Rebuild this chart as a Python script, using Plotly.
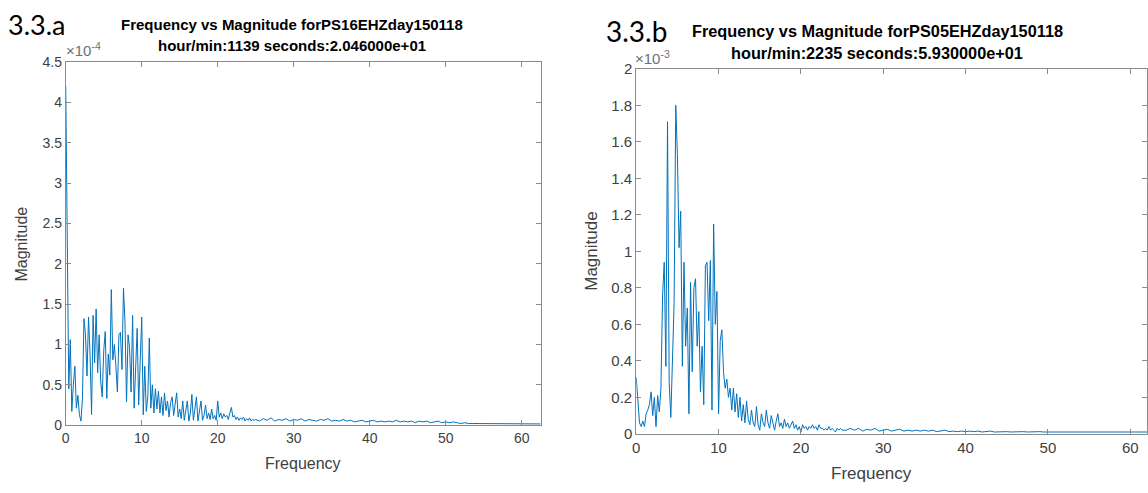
import numpy as np
import plotly.graph_objects as go

# ---------------- data (magnitude in units of 1e-4 for a, 1e-3 for b) ----------------
# fine grid: 0 .. 25 Hz every 0.2 Hz ; coarse tail: 25.5 .. 62.5 Hz every 0.5 Hz
freq_fine = [round(0.2 * i, 2) for i in range(126)]
freq_tail = [round(25.5 + 0.5 * i, 2) for i in range(75)]

mag_a_fine = [
    4.2, 1.75, 0.45, 1.06, 0.17, 0.5, 0.73, 0.21, 0.37, 0.13,
    0.05, 0.33, 1.32, 1.12, 0.61, 1.34, 0.88, 0.13, 1.36, 0.77,
    1.44, 0.65, 1.12, 0.55, 0.35, 0.92, 1.16, 0.33, 0.88, 0.62,
    1.68, 0.81, 1.0, 0.73, 0.41, 1.12, 1.15, 0.69, 1.7, 1.28,
    0.29, 1.12, 0.96, 0.41, 1.36, 0.21, 0.61, 1.2, 0.25, 0.69,
    1.34, 0.13, 0.73, 0.17, 0.35, 1.08, 0.21, 0.5, 0.15, 0.45,
    0.2, 0.42, 0.15, 0.35, 0.12, 0.4, 0.18, 0.3, 0.1, 0.28,
    0.35, 0.12, 0.25, 0.4, 0.1, 0.2, 0.08, 0.3, 0.06, 0.2,
    0.3, 0.05, 0.15, 0.38, 0.06, 0.2, 0.35, 0.05, 0.15, 0.3,
    0.06, 0.12, 0.25, 0.08, 0.15, 0.07, 0.2, 0.08, 0.12, 0.06,
    0.3, 0.1, 0.15, 0.08, 0.14, 0.1, 0.12, 0.07, 0.15, 0.22,
    0.1, 0.12, 0.07, 0.1, 0.06, 0.09, 0.07, 0.1, 0.05, 0.08,
    0.06, 0.09, 0.05, 0.07, 0.06, 0.07,
]
mag_a_tail = [
    0.05, 0.08, 0.06, 0.09, 0.05, 0.07, 0.06, 0.08, 0.05, 0.07,
    0.06, 0.08, 0.05, 0.07, 0.06, 0.05, 0.07, 0.06, 0.08, 0.05,
    0.06, 0.05, 0.07, 0.05, 0.06, 0.04, 0.05, 0.06, 0.04, 0.05,
    0.06, 0.04, 0.05, 0.04, 0.05, 0.04, 0.06, 0.04, 0.05, 0.04,
    0.05, 0.03, 0.05, 0.04, 0.05, 0.03, 0.04, 0.05, 0.03, 0.04,
    0.03, 0.04, 0.03, 0.02, 0.03, 0.02, 0.02, 0.02, 0.02, 0.015,
    0.02, 0.015, 0.02, 0.015, 0.015, 0.02, 0.015, 0.015, 0.02, 0.015,
    0.015, 0.015, 0.015, 0.015, 0.015,
]

mag_b_fine = [
    0.31, 0.15, 0.06, 0.04, 0.07, 0.04, 0.11, 0.13, 0.16, 0.23,
    0.1, 0.2, 0.04, 0.21, 0.12, 0.25, 0.76, 0.94, 0.37, 1.71,
    0.28, 0.09, 0.45, 0.72, 1.8, 1.53, 1.02, 1.22, 0.37, 0.94,
    0.48, 0.69, 0.11, 0.83, 0.34, 0.8, 0.85, 0.48, 0.67, 0.23,
    0.48, 0.16, 0.92, 0.94, 0.62, 0.95, 0.13, 1.15, 0.6, 0.78,
    0.11, 0.51, 0.57, 0.34, 0.25, 0.3, 0.2, 0.25, 0.13, 0.25,
    0.12, 0.22, 0.09, 0.2, 0.07, 0.16, 0.06, 0.18, 0.08, 0.05,
    0.13, 0.06, 0.04, 0.15, 0.05, 0.02, 0.11, 0.06, 0.04, 0.13,
    0.06, 0.03, 0.1, 0.05, 0.02, 0.07, 0.11, 0.04, 0.06, 0.03,
    0.08, 0.04, 0.06, 0.03, 0.05, 0.07, 0.03, 0.05, 0.02, 0.04,
    0.01, 0.05, 0.03, 0.04, 0.02, 0.04, 0.03, 0.05, 0.03, 0.04,
    0.02, 0.05, 0.03, 0.03, 0.02, 0.03, 0.02, 0.04, 0.02, 0.03,
    0.02, 0.01, 0.03, 0.02, 0.03, 0.02,
]
mag_b_tail = [
    0.02, 0.03, 0.02, 0.03, 0.015, 0.025, 0.02, 0.03, 0.015, 0.02,
    0.025, 0.015, 0.02, 0.025, 0.015, 0.02, 0.015, 0.02, 0.015, 0.02,
    0.015, 0.02, 0.012, 0.015, 0.02, 0.012, 0.015, 0.012, 0.015, 0.012,
    0.015, 0.012, 0.015, 0.01, 0.012, 0.015, 0.01, 0.012, 0.01, 0.012,
    0.01, 0.012, 0.01, 0.012, 0.01, 0.012, 0.01, 0.012, 0.01, 0.01,
    0.012, 0.01, 0.01, 0.012, 0.01, 0.01, 0.01, 0.012, 0.01, 0.01,
    0.01, 0.01, 0.01, 0.01, 0.01, 0.01, 0.01, 0.01, 0.01, 0.01,
    0.01, 0.01, 0.01, 0.01, 0.01,
]

x_ticks = [0, 10, 20, 30, 40, 50, 60]
y_ticks_a = [0, 0.5, 1, 1.5, 2, 2.5, 3, 3.5, 4, 4.5]
y_ticks_b = [0, 0.2, 0.4, 0.6, 0.8, 1, 1.2, 1.4, 1.6, 1.8, 2]

title_a = ["Frequency vs Magnitude forPS16EHZday150118", "hour/min:1139 seconds:2.046000e+01"]
title_b = ["Frequency vs Magnitude forPS05EHZday150118", "hour/min:2235 seconds:5.930000e+01"]

# ---------------- figure ----------------
W, H = 1148, 493
LINE = "#0072BD"
AX = "#8a8a8a"
TK = "#404040"
FONT = "Liberation Sans, Arial, sans-serif"

fig = go.Figure()
fig.add_trace(go.Scatter(x=freq_fine + freq_tail, y=mag_a_fine + mag_a_tail, mode="lines",
                         line=dict(color=LINE, width=1), xaxis="x", yaxis="y", showlegend=False))
fig.add_trace(go.Scatter(x=freq_fine + freq_tail, y=mag_b_fine + mag_b_tail, mode="lines",
                         line=dict(color=LINE, width=1), xaxis="x2", yaxis="y2", showlegend=False))

def px(x):
    return x / W

def py(y):
    return 1 - y / H

def axstyle(size):
    return dict(showline=True, linecolor=AX, linewidth=1, mirror="ticks", ticks="inside",
                ticklen=5, tickcolor=AX, showgrid=False, zeroline=False,
                tickfont=dict(family=FONT, size=size, color=TK))

# left panel: x 62..539, y 55..431 ; right panel: x 635.., y 62..440
fig.update_layout(
    xaxis=dict(domain=[px(62), px(539)], range=[0, 62.5], tickvals=x_ticks,
               ticktext=[str(v) for v in x_ticks], anchor="y", **axstyle(14)),
    yaxis=dict(domain=[py(431), py(55)], range=[0, 4.5], tickvals=y_ticks_a,
               ticktext=[("%g" % v) for v in y_ticks_a], anchor="x", **axstyle(14)),
    xaxis2=dict(domain=[px(635), 1.0], range=[0, (W - 635) / 8.27], tickvals=x_ticks,
                ticktext=[str(v) for v in x_ticks], anchor="y2", **axstyle(15)),
    yaxis2=dict(domain=[py(440), py(62)], range=[0, 2], tickvals=y_ticks_b,
                ticktext=[("%g" % v) for v in y_ticks_b], anchor="x2", **axstyle(15)),
)

ann = []
def text(x, y, s, size, color="black", bold=False, angle=0, family=FONT, xanchor="center"):
    ann.append(dict(x=px(x), y=py(y), xref="paper", yref="paper", text=("<b>%s</b>" % s) if bold else s,
                    showarrow=False, textangle=angle, xanchor=xanchor, yanchor="middle",
                    font=dict(family=family, size=size, color=color)))

# panel labels
text(2, 16, "3.3.a", 27, family="Lato, Carlito, sans-serif", xanchor="left")
text(603, 23, "3.3.b", 28, family="Lato, Carlito, sans-serif", xanchor="left")
# titles
text(289, 16, title_a[0], 15, bold=True)
text(289, 38, title_a[1], 15, bold=True)
text(877, 23, title_b[0], 16.3, bold=True)
text(877, 46, title_b[1], 16.3, bold=True)
# exponent labels
text(60, 42, "\u00d710<sup>-4</sup>", 15, color="#707070", xanchor="left")
text(632, 50, "\u00d710<sup>-3</sup>", 15, color="#707070", xanchor="left")
# axis titles
text(300, 471, "Frequency", 16, color=TK)
text(871, 481, "Frequency", 17, color=TK)
text(18, 243, "Magnitude", 16, color=TK, angle=-90)
text(590, 251, "Magnitude", 17, color=TK, angle=-90)

fig.update_layout(annotations=ann, width=W, height=H, margin=dict(l=0, r=0, t=0, b=0),
                  paper_bgcolor="white", plot_bgcolor="white")

fig.write_html("out.html", config=dict(displayModeBar=False))
